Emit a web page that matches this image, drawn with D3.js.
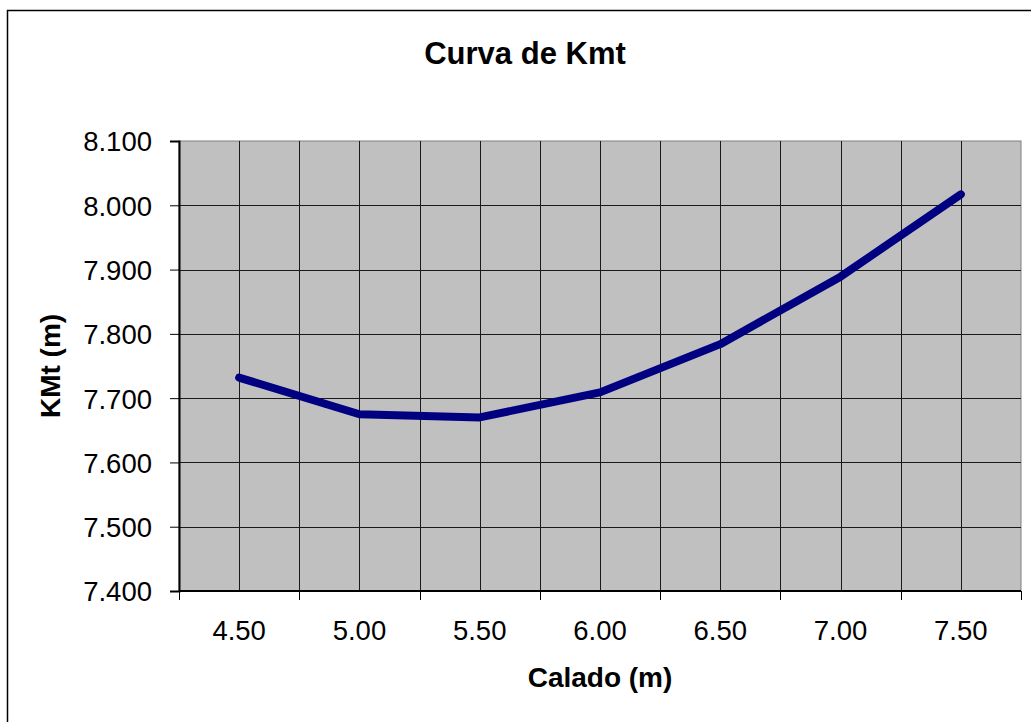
<!DOCTYPE html>
<html>
<head>
<meta charset="utf-8">
<script src="https://cdn.jsdelivr.net/npm/d3@7"></script>
<style>
  html, body { margin: 0; padding: 0; background: #fff; }
  svg { display: block; font-family: "Liberation Sans", Arial, sans-serif; }
</style>
</head>
<body>
<svg id="chart" width="1031" height="722"></svg>
<script>
// Draught (m) categories and KMt values (m)
const calado = ["4.50", "5.00", "5.50", "6.00", "6.50", "7.00", "7.50"];
const kmt = [7.732, 7.675, 7.670, 7.709, 7.784, 7.889, 8.017];
const yTicks = [7.4, 7.5, 7.6, 7.7, 7.8, 7.9, 8.0, 8.1];

const svg = d3.select("#chart");
const plot = { left: 179, right: 1021, top: 141, bottom: 591 };

// Outer chart frame
svg.append("rect")
  .attr("x", 7.5).attr("y", 10.5)
  .attr("width", 1040).attr("height", 730)
  .attr("fill", "#fff").attr("stroke", "#000").attr("stroke-width", 1.5);

const x = d3.scaleBand().domain(calado).range([plot.left, plot.right]).paddingInner(0).paddingOuter(0);
const y = d3.scaleLinear().domain([7.4, 8.1]).range([plot.bottom, plot.top]);
const bw = x.bandwidth();
const cx = d => x(d) + bw / 2;

// Plot background
svg.append("rect")
  .attr("x", plot.left).attr("y", plot.top)
  .attr("width", plot.right - plot.left).attr("height", plot.bottom - plot.top)
  .attr("fill", "#c0c0c0").attr("stroke", "#808080").attr("stroke-width", 1);

// Vertical gridlines: category boundaries and category centres
const vLines = [];
calado.forEach(c => { vLines.push(x(c)); vLines.push(cx(c)); });
vLines.push(plot.right);
svg.append("g").selectAll("line").data(vLines.slice(1, -1)).join("line")
  .attr("x1", d => Math.round(d) + 0.5).attr("x2", d => Math.round(d) + 0.5)
  .attr("y1", plot.top).attr("y2", plot.bottom)
  .attr("stroke", "#1a1a1a").attr("stroke-width", 1);

// Horizontal gridlines
svg.append("g").selectAll("line").data(yTicks.slice(1, -1)).join("line")
  .attr("x1", plot.left).attr("x2", plot.right)
  .attr("y1", d => Math.round(y(d)) + 0.5).attr("y2", d => Math.round(y(d)) + 0.5)
  .attr("stroke", "#1a1a1a").attr("stroke-width", 1);

// Y axis
const yAxis = svg.append("g")
  .attr("transform", `translate(${plot.left},0)`)
  .call(d3.axisLeft(y).tickValues(yTicks).tickFormat(d3.format(".3f")).tickSize(9).tickPadding(18));
yAxis.select(".domain").attr("stroke", "#000").attr("stroke-width", 2);
yAxis.selectAll(".tick line").attr("stroke", "#000");
yAxis.selectAll(".tick text")
  .attr("font-size", 27.5).attr("fill", "#000")
  .attr("font-family", "'Liberation Sans', Arial, sans-serif")
  .attr("dy", "0.36em");

// X axis: ticks sit on category boundaries, labels at category centres
const xAxis = svg.append("g").attr("transform", `translate(0,${plot.bottom})`);
xAxis.append("line")
  .attr("x1", plot.left).attr("x2", plot.right)
  .attr("y1", 0).attr("y2", 0)
  .attr("stroke", "#000").attr("stroke-width", 2);
const bounds = calado.map(c => x(c)).concat([plot.right]);
xAxis.selectAll("line.tk").data(bounds).join("line").attr("class", "tk")
  .attr("x1", d => Math.round(d) + 0.5).attr("x2", d => Math.round(d) + 0.5)
  .attr("y1", 0).attr("y2", 9)
  .attr("stroke", "#000").attr("stroke-width", 1);
xAxis.selectAll("text").data(calado).join("text")
  .attr("x", d => cx(d)).attr("y", 49)
  .attr("text-anchor", "middle")
  .attr("font-size", 27.5).attr("fill", "#000")
  .text(d => d);

// Series line
const line = d3.line().x((d, i) => cx(calado[i])).y(d => y(d));
svg.append("path")
  .datum(kmt)
  .attr("d", line)
  .attr("fill", "none")
  .attr("stroke", "#000080")
  .attr("stroke-width", 8)
  .attr("stroke-linejoin", "round")
  .attr("stroke-linecap", "round");

// Titles
svg.append("text")
  .attr("x", 525).attr("y", 64)
  .attr("text-anchor", "middle")
  .attr("font-size", 31).attr("font-weight", "bold")
  .text("Curva de Kmt");

svg.append("text")
  .attr("x", 600).attr("y", 687)
  .attr("text-anchor", "middle")
  .attr("font-size", 28).attr("font-weight", "bold")
  .text("Calado (m)");

svg.append("text")
  .attr("transform", `translate(60,${(plot.top + plot.bottom) / 2}) rotate(-90)`)
  .attr("text-anchor", "middle")
  .attr("font-size", 28).attr("font-weight", "bold")
  .text("KMt (m)");
</script>
</body>
</html>
